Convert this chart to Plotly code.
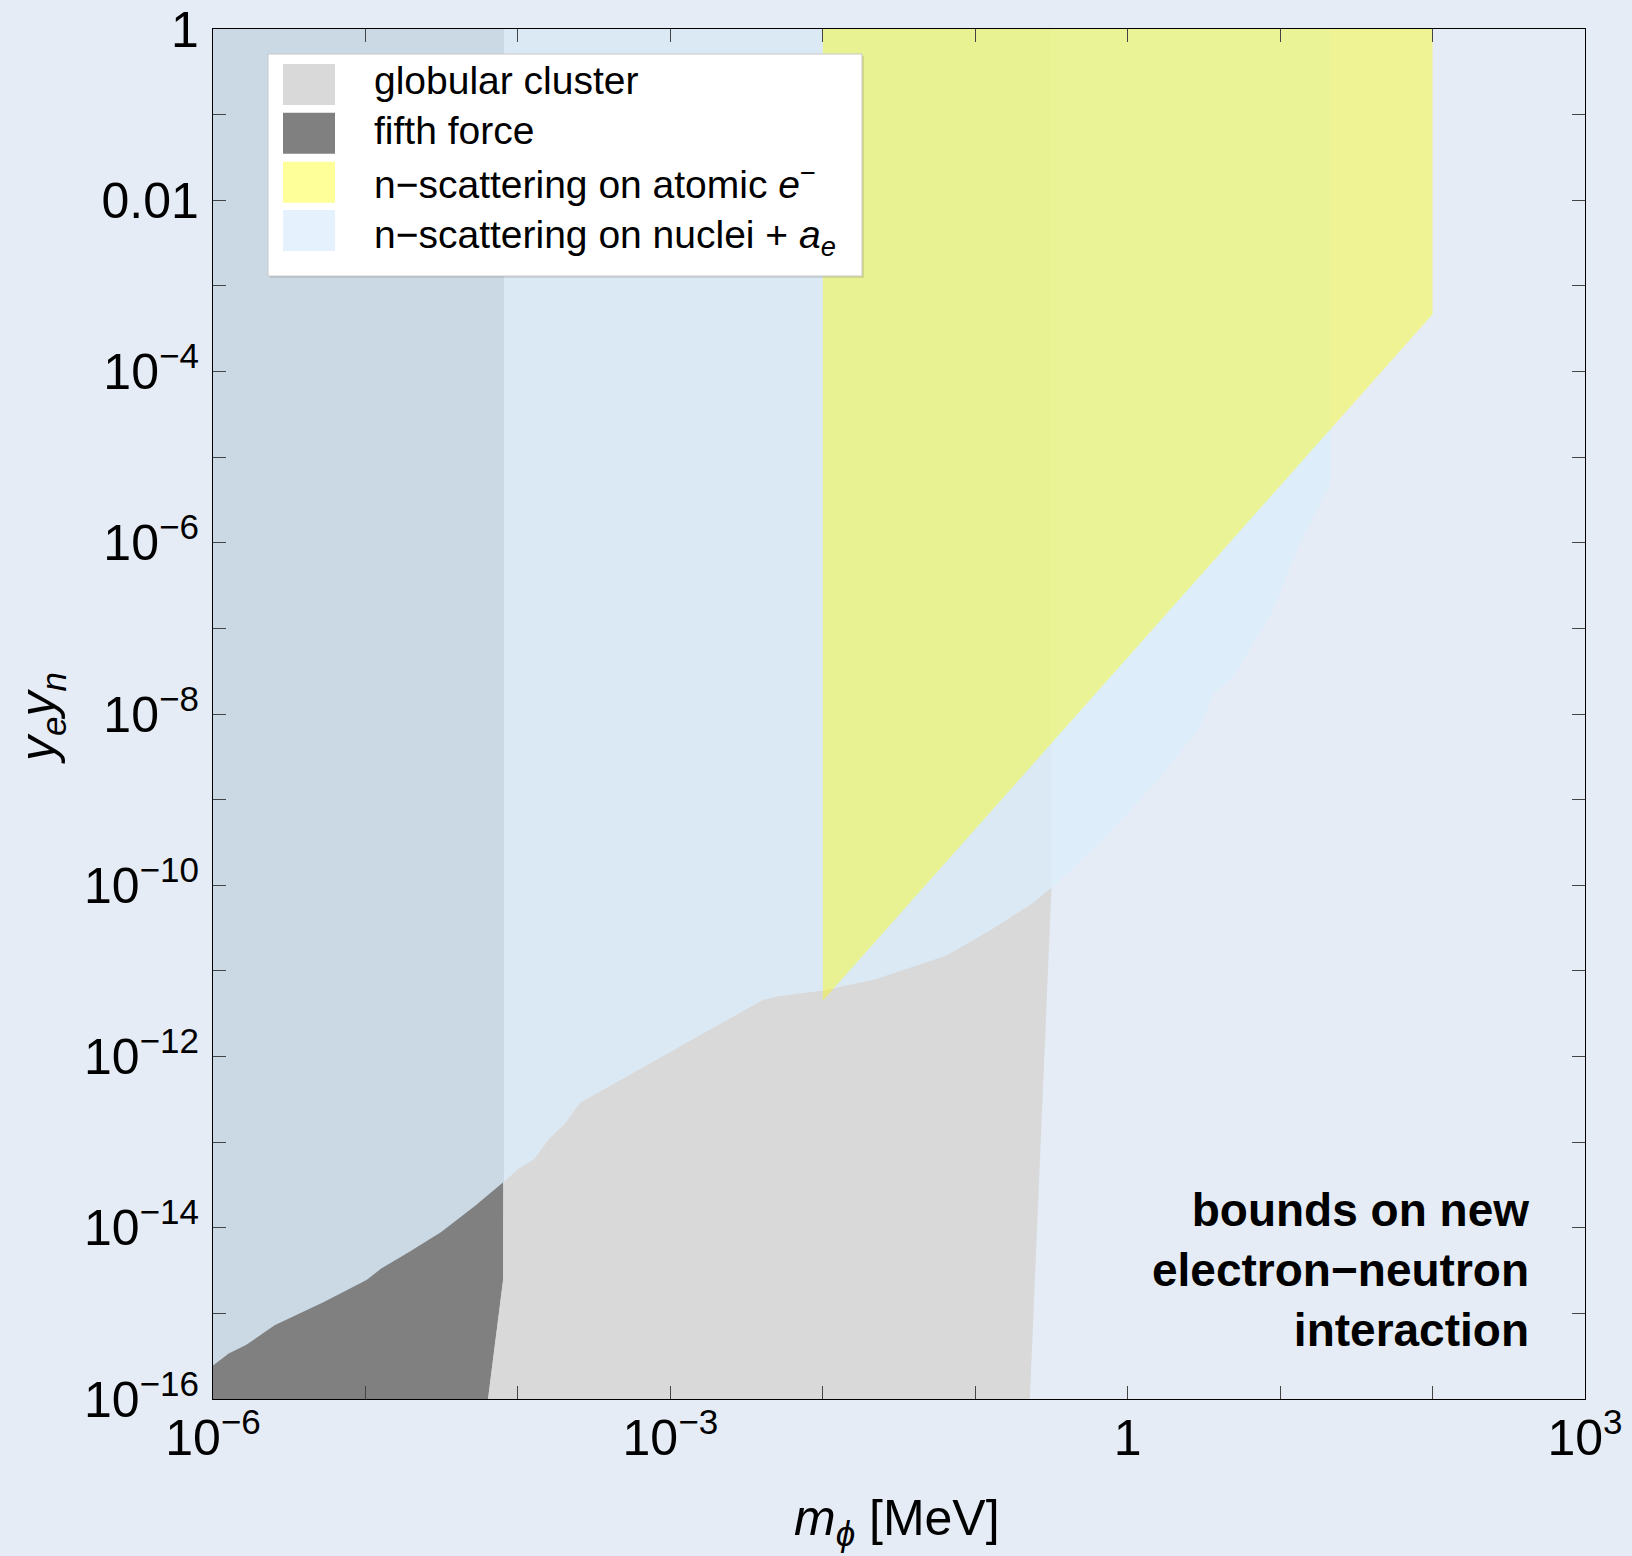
import plotly.graph_objects as go

# ---------------- data (log10 values: mass in MeV, coupling y_e*y_n) ----------------
# fifth force excluded region: upper boundary
fifth_logm = [-6.0, -5.897, -5.784, -5.596, -5.276, -4.993, -4.899, -4.711, -4.503, -4.278, -4.096]
fifth_logy = [-15.61, -15.47, -15.37, -15.14, -14.87, -14.61, -14.48, -14.28, -14.05, -13.74, -13.47]
fifth_edge_logm = [-4.096, -4.097, -4.196]          # right edge going down
fifth_edge_logy = [-13.47, -14.61, -16.0]

# globular cluster excluded region: upper boundary
glob_logm = [-4.096, -3.995, -3.893, -3.795, -3.694, -3.592, -2.394, -2.299, -1.998,
             -1.659, -1.188, -0.887, -0.623, -0.5]
glob_logy = [-13.47, -13.31, -13.20, -12.96, -12.79, -12.54, -11.34, -11.30, -11.23,
             -11.10, -10.82, -10.51, -10.21, -10.03]
glob_right_logm = [-0.5, -0.642]
glob_right_logy = [-10.03, -16.0]

# n-scattering on atomic electrons
atomic_logm = [-2.0, 2.0, 2.0, -2.0]
atomic_logy = [-11.35, -3.33, 0.0, 0.0]

# n-scattering on nuclei + a_e : low-mass band, mid band, high-mass band boundary
nuclei_band_logm = [-6.0, -4.09]
ae_mid_logm = [-4.09, -0.5]
ae_high_edge_logm = [1.33, 1.33, 1.25, 1.133, 0.955, 0.693, 0.562, 0.476, 0.214, -0.18, -0.5]
ae_high_edge_logy = [0.0, -5.3, -5.6, -6.0, -6.79, -7.57, -7.76, -8.15, -8.74, -9.51, -10.03]

x_exp = list(range(-6, 4))
x_labels = {-6: "10<sup>−6</sup>", -3: "10<sup>−3</sup>", 0: "1", 3: "10<sup>3</sup>"}
y_exp = list(range(-16, 1))
y_labels = {0: "1", -2: "0.01", -4: "10<sup>−4</sup>", -6: "10<sup>−6</sup>", -8: "10<sup>−8</sup>",
            -10: "10<sup>−10</sup>", -12: "10<sup>−12</sup>", -14: "10<sup>−14</sup>",
            -16: "10<sup>−16</sup>"}

legend_names = ["globular cluster", "fifth force",
                "n−scattering on atomic <i>e</i><sup>−</sup>",
                "n−scattering on nuclei + <i>a</i><sub><i>e</i></sub>"]
legend_colors = ["#d9d9d9", "#808080", "#ffff99", "#e5f2fd"]

YMIN, YMAX = -16.0, 0.0
XMIN, XMAX = -6.0, 3.0

FONT = "Liberation Sans, Arial, Helvetica, sans-serif"


def lin(v):
    return [10 ** t for t in v]


def poly(lx, ly, color):
    return go.Scatter(x=lin(lx), y=lin(ly), fill="toself", fillcolor=color, mode="lines",
                      line=dict(width=0, color=color), hoverinfo="skip", showlegend=False)


fig = go.Figure()

# low-mass band (darker bluish)
fig.add_trace(poly([nuclei_band_logm[0], nuclei_band_logm[1], nuclei_band_logm[1], nuclei_band_logm[0]],
                   [YMAX, YMAX, YMIN, YMIN], "#cad9e4"))
# mid band light blue
fig.add_trace(poly([ae_mid_logm[0], ae_mid_logm[1], ae_mid_logm[1], glob_right_logm[1], ae_mid_logm[0]],
                   [YMAX, YMAX, glob_right_logy[0], YMIN, YMIN], "#dbe9f4"))
# high-mass light blue
fig.add_trace(poly([-0.5] + ae_high_edge_logm, [YMAX] + ae_high_edge_logy, "#ddedfa"))

# fifth force (dark gray)
fig.add_trace(poly([XMIN] + fifth_logm + fifth_edge_logm[1:],
                   [YMIN] + fifth_logy + fifth_edge_logy[1:], "#808080"))
# globular cluster (light gray)
fig.add_trace(poly([fifth_edge_logm[2], fifth_edge_logm[1]] + glob_logm + glob_right_logm[1:],
                   [fifth_edge_logy[2], fifth_edge_logy[1]] + glob_logy + glob_right_logy[1:], "#d9d9d9"))
# atomic electron scattering (translucent yellow)
fig.add_trace(poly(atomic_logm, atomic_logy, "rgba(255,255,0,0.40)"))

W, H = 1632, 1556
L, R, T, B = 213, 47, 29, 157
PW, PH = W - L - R, H - T - B


def px(x):
    return (x - L) / PW


def py(y):
    return 1 - (y - T) / PH


shapes = []
annotations = []

# legend box
shapes.append(dict(type="rect", xref="paper", yref="paper", x0=px(270), x1=px(864), y0=py(278), y1=py(56),
                   fillcolor="rgba(0,0,0,0.10)", line=dict(width=0), layer="above"))
shapes.append(dict(type="rect", xref="paper", yref="paper", x0=px(268), x1=px(862), y0=py(276), y1=py(54),
                   fillcolor="white", line=dict(color="#c8c8c8", width=1), layer="above"))
row_tops = [64, 112.7, 161.7, 210]
text_centers = [80.5, 131, 182, 237]
for i, (name, col) in enumerate(zip(legend_names, legend_colors)):
    top = row_tops[i]
    shapes.append(dict(type="rect", xref="paper", yref="paper", x0=px(283), x1=px(335),
                       y0=py(top + 41), y1=py(top), fillcolor=col, line=dict(width=0), layer="above"))
    annotations.append(dict(xref="paper", yref="paper", x=px(372), y=py(text_centers[i]), text=name,
                            showarrow=False, xanchor="left", yanchor="middle",
                            font=dict(family=FONT, size=39, color="black")))

annotations.append(dict(xref="paper", yref="paper", x=px(1531), y=py(1270),
                        text="bounds on new<br>electron−neutron<br>interaction",
                        showarrow=False, xanchor="right", yanchor="middle", align="right",
                        font=dict(family=FONT, size=46, color="black", weight="bold")))
annotations.append(dict(xref="paper", yref="paper", x=px(897), y=py(1521),
                        text="<i>m</i><sub><i>ϕ</i></sub> [MeV]", showarrow=False,
                        xanchor="center", yanchor="middle",
                        font=dict(family=FONT, size=50, color="black")))
annotations.append(dict(xref="paper", yref="paper", x=px(41), y=py(718),
                        text="<i>y</i><sub><i>e</i></sub><i>y</i><sub><i>n</i></sub>", showarrow=False,
                        xanchor="center", yanchor="middle", textangle=-90,
                        font=dict(family=FONT, size=50, color="black")))

axis_common = dict(type="log", ticks="inside", ticklen=13, tickwidth=1.3, tickcolor="#444444",
                   showline=True, linecolor="black", linewidth=1.2, mirror="ticks",
                   showgrid=False, zeroline=False, automargin=False,
                   tickfont=dict(family=FONT, size=50, color="black"))

fig.update_layout(
    width=W, height=H, autosize=False,
    margin=dict(l=L, r=R, t=T, b=B, autoexpand=False),
    paper_bgcolor="#e6ecf6", plot_bgcolor="rgba(0,0,0,0)",
    showlegend=False,
    xaxis=dict(range=[XMIN, XMAX], tickvals=lin(x_exp),
               ticktext=[x_labels.get(e, "") for e in x_exp], ticklabelstandoff=-5, **axis_common),
    yaxis=dict(range=[YMIN, YMAX], tickvals=lin(y_exp),
               ticktext=[y_labels.get(e, "") for e in y_exp], ticklabelstandoff=3, **axis_common),
    shapes=shapes, annotations=annotations,
)

fig.write_html("out.html", config={"displayModeBar": False},
               post_script="document.body.style.margin='0px';document.body.style.background='#e6ecf6';")
